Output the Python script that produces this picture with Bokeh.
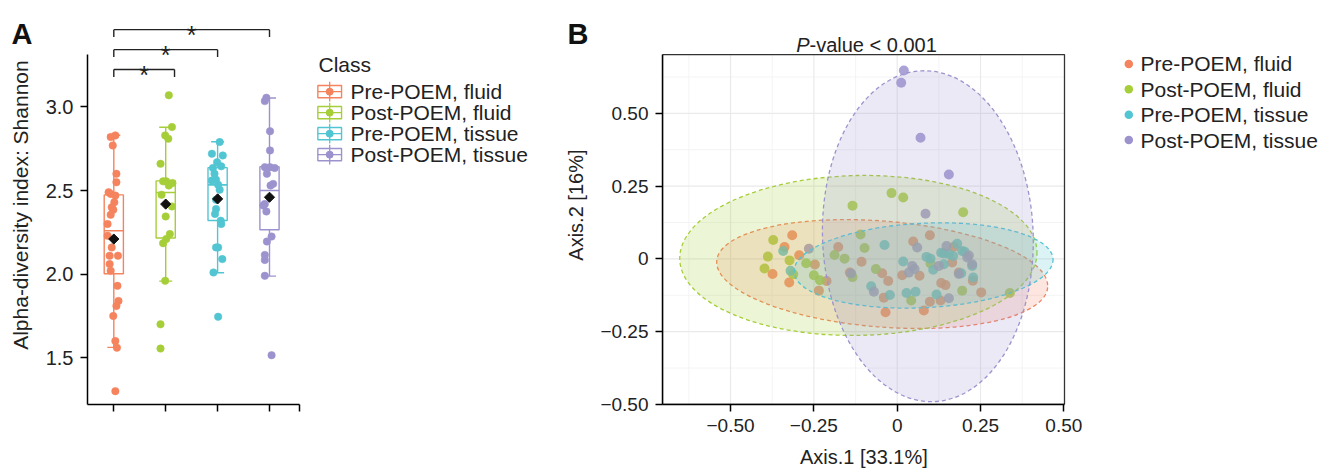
import math
from bokeh.plotting import figure
from bokeh.models import Range1d, FixedTicker, LinearAxis
from bokeh.layouts import row
from bokeh.embed import file_html
from bokeh.resources import INLINE
from bokeh.core.properties import value

FONT = "Liberation Sans"
TXT = "#222222"
H = 470

classes = ["Pre-POEM, fluid", "Post-POEM, fluid", "Pre-POEM, tissue", "Post-POEM, tissue"]
colors = ["#F4835E", "#A6CE39", "#52C5D2", "#9C93CE"]

# ---------------- Panel A data (Shannon index) ----------------
box_low = [1.562, 1.958, 2.008, 1.988]
box_q1 = [2.002, 2.216, 2.321, 2.266]
box_med = [2.26, 2.488, 2.534, 2.50]
box_q3 = [2.474, 2.558, 2.637, 2.643]
box_high = [2.831, 2.879, 2.792, 3.054]
box_mean = [2.21, 2.419, 2.45, 2.46]

pre_fluid_shannon = [2.83, 2.82, 2.77, 2.60, 2.55, 2.49, 2.48, 2.47, 2.43, 2.40, 2.385, 2.355, 2.30,
                     2.23, 2.16, 2.11, 2.11, 2.06, 2.02, 1.93, 1.84, 1.81, 1.75, 1.60, 1.56, 1.30]
pre_fluid_jitter = [0.03, -0.06, -0.02, 0.05, 0.05, -0.10, -0.06, 0.03, 0.01, -0.04, -0.01, -0.06, -0.12,
                    -0.12, -0.04, 0.08, -0.08, -0.08, -0.06, 0.07, 0.09, 0.05, -0.01, 0.03, 0.06, 0.03]
post_fluid_shannon = [3.07, 2.88, 2.83, 2.81, 2.66, 2.555, 2.555, 2.545, 2.53, 2.475, 2.405, 2.345,
                      2.24, 2.21, 2.185, 1.96, 1.70, 1.555]
post_fluid_jitter = [0.06, 0.12, -0.01, 0.05, -0.10, -0.05, 0.01, 0.13, 0.06, -0.08, 0.12, 0.00,
                     0.08, 0.01, -0.05, -0.01, -0.10, -0.10]
pre_tissue_shannon = [2.79, 2.72, 2.71, 2.67, 2.635, 2.645, 2.60, 2.565, 2.56, 2.535, 2.505, 2.445,
                      2.39, 2.36, 2.32, 2.30, 2.16, 2.16, 2.09, 2.01, 1.745]
pre_tissue_jitter = [0.04, -0.11, 0.10, -0.01, -0.09, 0.07, -0.06, -0.03, -0.11, 0.01, 0.04, -0.03,
                     -0.03, -0.05, 0.06, 0.07, 0.01, -0.03, 0.09, -0.08, 0.01]
post_tissue_shannon = [3.055, 3.035, 2.855, 2.74, 2.64, 2.64, 2.635, 2.60, 2.54, 2.53, 2.42, 2.41,
                       2.375, 2.225, 2.195, 2.115, 2.085, 1.99, 1.515]
post_tissue_jitter = [-0.06, -0.09, 0.01, 0.01, -0.09, 0.01, 0.10, -0.05, 0.07, 0.02, -0.09, -0.12,
                      -0.06, 0.04, -0.05, -0.09, -0.09, -0.09, 0.04]

shannon_groups = [pre_fluid_shannon, post_fluid_shannon, pre_tissue_shannon, post_tissue_shannon]
jitter_groups = [pre_fluid_jitter, post_fluid_jitter, pre_tissue_jitter, post_tissue_jitter]

a_yticks = [1.5, 2.0, 2.5, 3.0]
a_ytick_labels = ["1.5", "2.0", "2.5", "3.0"]
a_ylabel = "Alpha-diversity index: Shannon"

# significance brackets (group positions and levels in Shannon units)
sig_start = [1, 1, 1]
sig_end = [2.17, 3, 4]
sig_level = [3.224, 3.343, 3.4625]
sig_text = ["*", "*", "*"]

# ---------------- Panel B data (PCoA) ----------------
pre_fluid_ax1 = [-0.315, -0.338, -0.294, -0.374, -0.324, -0.247, -0.235, -0.212, -0.177, -0.107, -0.142,
                 -0.045, -0.027, -0.04, -0.035, 0.015, 0.048, 0.067, 0.098, 0.132, 0.145, 0.08, 0.098,
                 0.13, 0.165, 0.17, 0.227, 0.252, 0.185]
pre_fluid_ax2 = [0.081, 0.041, 0.0125, -0.052, -0.081, -0.019, -0.109, -0.076, 0.041, -0.01, -0.047,
                 -0.049, -0.076, -0.133, -0.183, -0.056, 0.06, -0.058, 0.081, -0.083, -0.09, -0.177, -0.147,
                 -0.143, -0.0125, 0.042, -0.075, -0.115, -0.047]
post_fluid_ax1 = [-0.017, 0.018, -0.134, 0.198, -0.11, -0.098, -0.188, -0.158, -0.372, -0.388, -0.398,
                  -0.323, -0.273, -0.312, -0.25, -0.232, -0.134, -0.064, 0.1, 0.195, 0.042, 0.338]
post_fluid_ax2 = [0.226, 0.211, 0.183, 0.16, 0.084, 0.0375, 0.0136, 0.001, 0.065, 0.008, -0.033,
                  -0.005, -0.015, -0.053, -0.056, -0.073, -0.0625, -0.035, -0.016, -0.109, -0.143, -0.117]
pre_tissue_ax1 = [-0.342, -0.32, -0.038, 0.018, -0.078, -0.022, 0.028, 0.055, 0.088, 0.1, 0.108, 0.118,
                  0.132, 0.14, 0.155, 0.168, 0.18, 0.195, 0.202, 0.14, 0.225, 0.228, 0.192]
pre_tissue_ax2 = [0.027, -0.041, 0.048, -0.009, -0.094, -0.124, -0.117, -0.1125, 0.007, 0.001, -0.0375,
                  -0.122, 0.0216, 0.019, 0.016, 0.01, 0.052, 0.027, 0.025, -0.018, -0.024, -0.064, -0.049]
post_tissue_ax1 = [0.02, 0.012, 0.07, 0.155, 0.085, -0.265, 0.06, 0.148, 0.045, 0.035, 0.052, 0.125,
                   0.21, 0.225, 0.185, -0.138, -0.07, 0.155, 0.215]
post_tissue_ax2 = [0.647, 0.605, 0.416, 0.29, 0.155, 0.035, 0.039, 0.044, -0.024, -0.047, -0.035, -0.024,
                   0.005, -0.018, -0.052, -0.05, -0.113, -0.135, 0.012]

ax1_groups = [pre_fluid_ax1, post_fluid_ax1, pre_tissue_ax1, post_tissue_ax1]
ax2_groups = [pre_fluid_ax2, post_fluid_ax2, pre_tissue_ax2, post_tissue_ax2]

# confidence ellipses (centre, full axes, rotation)
ell_x = [-0.045, -0.1165, 0.079, 0.092]
ell_y = [-0.052, 0.012, -0.0225, 0.078]
ell_w = [0.996, 1.072, 0.778, 0.632]
ell_h = [0.364, 0.549, 0.29, 1.137]
ell_angle = [-0.08, 0.02, 0.05, 0.035]

b_ticks = [-0.5, -0.25, 0.0, 0.25, 0.5]
b_tick_labels = ["\u22120.50", "\u22120.25", "0", "0.25", "0.50"]
b_minor = [-0.625, -0.375, -0.125, 0.125, 0.375, 0.625]
b_xlabel = "Axis.1 [33.1%]"
b_ylabel = "Axis.2 [16%]"
b_title_italic = "P"
b_title_rest = "-value < 0.001"


def style_axis(axis):
    axis.axis_line_color = "black"
    axis.axis_line_width = 1.5
    axis.major_tick_line_color = "black"
    axis.major_tick_line_width = 1.5
    axis.major_tick_out = 7
    axis.major_tick_in = 0
    axis.minor_tick_line_color = None
    axis.major_label_text_font = FONT
    axis.major_label_text_font_size = "19px"
    axis.major_label_text_color = TXT
    axis.major_label_standoff = 7


def gutter(width, letter, label, lx, cx):
    """narrow text strip: panel letter and rotated axis title (pixel coordinates)"""
    g = figure(width=width, height=H, output_backend="svg", toolbar_location=None,
               x_range=Range1d(0, width), y_range=Range1d(0, H), x_axis_type=None, y_axis_type=None,
               min_border_left=0, min_border_right=0, min_border_top=0, min_border_bottom=0)
    g.outline_line_color = None
    g.grid.visible = False
    g.text(x=[lx], y=[H - 39.3], text=[letter], text_align="left", text_baseline="alphabetic",
           text_font=value(FONT), text_font_style="bold", text_font_size="29px", text_color="#111111")
    g.text(x=[cx], y=[H - 238], text=[label], angle=math.pi / 2, text_align="center",
           text_baseline="middle", text_font=value(FONT), text_font_size="21px" if len(label) > 15 else "20px",
           text_color=TXT)
    return g


# ======================= PANEL A =======================
GA = 36  # width of left text strip


def ax(px):
    return 1 + (px - 113.3) / 51.9


def ay(py):
    return 3.0 + (107.0 - py) / 168.0


ga = gutter(GA, "A", a_ylabel, 11, 19.5)

pa = figure(width=560 - GA, height=H, output_backend="svg", toolbar_location=None,
            x_range=Range1d(ax(87), ax(560)), y_range=Range1d(ay(406), ay(0)),
            min_border_left=87 - GA, min_border_right=0, min_border_top=0, min_border_bottom=H - 406)
pa.outline_line_color = None
pa.grid.visible = False

style_axis(pa.xaxis[0])
style_axis(pa.yaxis[0])
pa.yaxis.major_label_text_font_size = "20px"
pa.xaxis.bounds = (ax(87), ax(299))
pa.xaxis.ticker = FixedTicker(ticks=[1, 2, 3, 4, ax(298.5)])
pa.xaxis.major_label_text_color = None
pa.yaxis.bounds = (ay(406), ay(54))
pa.yaxis.ticker = FixedTicker(ticks=a_yticks)
pa.yaxis.major_label_overrides = {t: l for t, l in zip(a_yticks, a_ytick_labels)}

BW = 0.37
CAP = 0.25
for i in range(4):
    xc = i + 1
    c = colors[i]
    pa.segment(x0=[xc, xc], y0=[box_low[i], box_q3[i]], x1=[xc, xc], y1=[box_q1[i], box_high[i]],
               line_color=c, line_width=1.4)
    pa.segment(x0=[xc - CAP / 2, xc - CAP / 2], y0=[box_low[i], box_high[i]],
               x1=[xc + CAP / 2, xc + CAP / 2], y1=[box_low[i], box_high[i]], line_color=c, line_width=1.4)
    pa.quad(left=[xc - BW / 2], right=[xc + BW / 2], bottom=[box_q1[i]], top=[box_q3[i]],
            fill_color="white", fill_alpha=0.0, line_color=c, line_width=1.4)
    pa.segment(x0=[xc - BW / 2], y0=[box_med[i]], x1=[xc + BW / 2], y1=[box_med[i]],
               line_color=c, line_width=1.6)
    pts_x = [xc + j for j in jitter_groups[i]]
    pa.scatter(x=pts_x, y=shannon_groups[i], size=7.5, fill_color=c, line_color=c, line_width=0.5)
    pa.scatter(x=[xc], y=[box_mean[i]], marker="square", angle=math.pi / 4, size=7.2,
               fill_color="#111111", line_color="#111111")

# significance brackets
drop = 0.044
for s, e, lv, t in zip(sig_start, sig_end, sig_level, sig_text):
    pa.segment(x0=[s, s, e], y0=[lv, lv, lv], x1=[e, s, e], y1=[lv, lv - drop, lv - drop],
               line_color=TXT, line_width=1.4)
    pa.text(x=[(s + e) / 2], y=[lv - 0.034], text=[t], text_align="center", text_baseline="alphabetic",
            text_font=value(FONT), text_font_size="25px", text_color=TXT)

# legend A (drawn as glyphs)
rows_a = [91.6, 112.7, 133.8, 154.9]
kx = ax(329.2)
kw = 23.7 / 51.9
kh = 12.3 / 168.0
pa.text(x=[ax(318)], y=[ay(64.0)], text=["Class"], text_baseline="middle", text_align="left",
        text_font=value(FONT), text_font_size="21px", text_color=TXT)
for i, cy in enumerate(rows_a):
    c = colors[i]
    pa.segment(x0=[kx], y0=[ay(cy - 10)], x1=[kx], y1=[ay(cy + 10)], line_color=c, line_width=1.3)
    pa.rect(x=[kx], y=[ay(cy)], width=kw, height=kh, fill_color=None, line_color=c, line_width=1.4)
    pa.segment(x0=[kx - kw / 2], y0=[ay(cy)], x1=[kx + kw / 2], y1=[ay(cy)], line_color=c, line_width=1.4)
    pa.scatter(x=[kx], y=[ay(cy)], size=7, fill_color=c, line_color=c)
pa.text(x=[ax(350)] * 4, y=[ay(cy) for cy in rows_a], text=classes, text_baseline="middle",
        text_align="left", text_font=value(FONT), text_font_size="21px", text_color=TXT)


# ======================= PANEL B =======================
GB = 34  # width of text strip left of panel B
B0 = 560 + GB
WB = 1330 - B0


def bx(px):
    return (px - 896.7) / 333.3


def by(py):
    return (259.7 - py) / 292.6


gb = gutter(GB, "B", b_ylabel, 7, 15)

xl0, xl1 = bx(662), bx(1064)
yl0, yl1 = by(406), by(54.3)

pb = figure(width=WB, height=H, output_backend="svg", toolbar_location=None,
            x_range=Range1d(bx(662), bx(1330)), y_range=Range1d(by(406), by(0)),
            min_border_left=662 - B0, min_border_right=0, min_border_top=0, min_border_bottom=H - 406)
pb.outline_line_color = None
pb.grid.visible = False

style_axis(pb.xaxis[0])
style_axis(pb.yaxis[0])
pb.xaxis.bounds = (xl0, xl1)
pb.yaxis.bounds = (yl0, yl1)
pb.xaxis.ticker = FixedTicker(ticks=b_ticks)
pb.yaxis.ticker = FixedTicker(ticks=b_ticks)
pb.xaxis.major_label_overrides = {t: l for t, l in zip(b_ticks, b_tick_labels)}
pb.yaxis.major_label_overrides = {t: l for t, l in zip(b_ticks, b_tick_labels)}

# x-axis title as a second, line-less axis below the first one (centred under the panel)
xmid = -0.1
title_axis = LinearAxis(ticker=FixedTicker(ticks=[xmid]), major_label_overrides={xmid: b_xlabel},
                        axis_line_color=None, major_tick_line_color=None, minor_tick_line_color=None,
                        major_tick_out=0, major_tick_in=0, major_label_standoff=11,
                        major_label_text_font=FONT, major_label_text_font_size="20px",
                        major_label_text_color=TXT)
pb.add_layout(title_axis, "below")

# grid lines (minor then major) limited to the panel
gx_minor = [v for v in b_minor if xl0 < v < xl1]
gy_minor = [v for v in b_minor if yl0 < v < yl1]
gx_major = [v for v in b_ticks if xl0 < v < xl1 - 0.01]
gy_major = [v for v in b_ticks if yl0 + 0.01 < v < yl1]
pb.segment(x0=gx_minor, y0=[yl0] * len(gx_minor), x1=gx_minor, y1=[yl1] * len(gx_minor),
           line_color="#F3F3F3", line_width=0.9)
pb.segment(x0=[xl0] * len(gy_minor), y0=gy_minor, x1=[xl1] * len(gy_minor), y1=gy_minor,
           line_color="#F3F3F3", line_width=0.9)
pb.segment(x0=gx_major, y0=[yl0] * len(gx_major), x1=gx_major, y1=[yl1] * len(gx_major),
           line_color="#EAEAEA", line_width=1.2)
pb.segment(x0=[xl0] * len(gy_major), y0=gy_major, x1=[xl1] * len(gy_major), y1=gy_major,
           line_color="#EAEAEA", line_width=1.2)

for i in range(4):
    pb.scatter(x=ax1_groups[i], y=ax2_groups[i], size=10, fill_color=colors[i], fill_alpha=0.85,
               line_color=None)
for i in range(4):
    pb.ellipse(x=[ell_x[i]], y=[ell_y[i]], width=[ell_w[i]], height=[ell_h[i]], angle=[ell_angle[i]],
               fill_color=colors[i], fill_alpha=0.2, line_color=colors[i], line_width=1.3,
               line_dash="4 3")

pb.quad(left=[xl0], right=[xl1], bottom=[yl0], top=[yl1], fill_color=None, line_color="#333333",
        line_width=1.3)

# title
pb.text(x=[bx(809)], y=[by(44.3)], text=[b_title_italic], text_align="right", text_baseline="alphabetic",
        text_font=value(FONT), text_font_style="italic", text_font_size="20px", text_color=TXT)
pb.text(x=[bx(809)], y=[by(44.3)], text=[b_title_rest], text_align="left", text_baseline="alphabetic",
        text_font=value(FONT), text_font_size="20px", text_color=TXT)

# legend B
rows_b = [63.7, 89.2, 114.8, 140.3]
pb.scatter(x=[bx(1128.3)] * 4, y=[by(r) for r in rows_b], size=8.5, fill_color=colors, line_color=None)
pb.text(x=[bx(1140)] * 4, y=[by(r) for r in rows_b], text=classes, text_baseline="middle",
        text_align="left", text_font=value(FONT), text_font_size="21px", text_color=TXT)

layout = row(ga, pa, gb, pb)
open("out.html", "w").write(file_html(layout, INLINE, "Shannon and PCoA"))
